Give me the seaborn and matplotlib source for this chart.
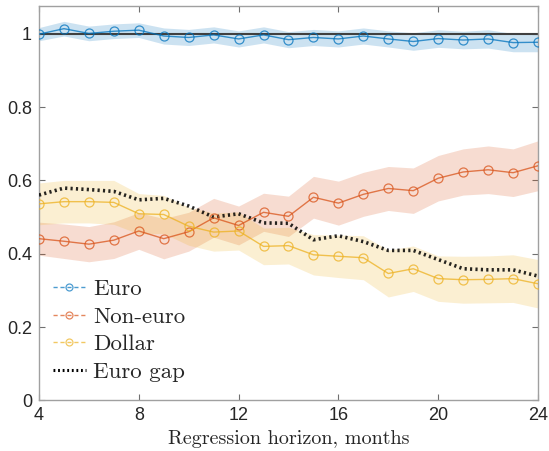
import numpy as np
import pandas as pd
import matplotlib
matplotlib.use("Agg")
import matplotlib.pyplot as plt
from matplotlib.lines import Line2D
import seaborn as sns

# Regression horizon (months)
horizon = list(range(4, 25))

# Point estimates
euro = [0.999, 1.014, 1.001, 1.007, 1.010, 0.994, 0.990, 0.997, 0.986, 0.997, 0.984,
        0.990, 0.986, 0.994, 0.986, 0.979, 0.987, 0.983, 0.986, 0.976, 0.977]
non_euro = [0.441, 0.434, 0.426, 0.437, 0.462, 0.441, 0.460, 0.498, 0.477, 0.513, 0.502,
            0.554, 0.538, 0.562, 0.578, 0.572, 0.606, 0.623, 0.629, 0.621, 0.640]
dollar = [0.536, 0.542, 0.542, 0.540, 0.509, 0.507, 0.475, 0.459, 0.462, 0.420, 0.422,
          0.397, 0.393, 0.389, 0.346, 0.359, 0.332, 0.329, 0.330, 0.332, 0.318]
euro_gap = [0.560, 0.579, 0.575, 0.570, 0.547, 0.551, 0.530, 0.500, 0.509, 0.484, 0.483,
            0.438, 0.449, 0.433, 0.409, 0.409, 0.384, 0.359, 0.356, 0.356, 0.339]

# Confidence band half-widths
euro_ci = [0.018, 0.020, 0.020, 0.020, 0.020, 0.022, 0.022, 0.022, 0.022, 0.022, 0.022,
           0.022, 0.022, 0.022, 0.022, 0.024, 0.024, 0.024, 0.025, 0.025, 0.026]
non_euro_ci = [0.045, 0.047, 0.048, 0.050, 0.050, 0.055, 0.053, 0.053, 0.053, 0.052, 0.055,
               0.057, 0.060, 0.060, 0.060, 0.062, 0.062, 0.063, 0.065, 0.065, 0.068]
dollar_ci = [0.057, 0.058, 0.058, 0.060, 0.055, 0.052, 0.052, 0.052, 0.052, 0.050, 0.050,
             0.055, 0.058, 0.060, 0.064, 0.062, 0.062, 0.064, 0.064, 0.065, 0.066]

labels = ["Euro", "Non-euro", "Dollar", "Euro gap"]
colors = ["#0072BD", "#D95319", "#EDB120"]

sns.set_theme(style="white")
plt.rcParams["font.family"] = ["Liberation Sans", "DejaVu Sans"]

fig = plt.figure(figsize=(5.49, 4.51), dpi=100)
ax = fig.add_axes([0.071, 0.1124, 0.909, 0.8736])

x = np.array(horizon)
series = [euro, non_euro, dollar]
cis = [euro_ci, non_euro_ci, dollar_ci]

# Shaded confidence bands
for vals, ci, c in zip(series, cis, colors):
    v = np.array(vals)
    h = np.array(ci)
    ax.fill_between(x, v - h, v + h, color=c, alpha=0.2, linewidth=0, zorder=1)

# Reference level at one
ax.plot([x[0], x[-1]], [1, 1], color="#404040", lw=1.5, zorder=2)

df = pd.DataFrame({"horizon": horizon, "Euro": euro, "Non-euro": non_euro,
                   "Dollar": dollar, "Euro gap": euro_gap})

for name, c in zip(labels[:3], colors):
    sns.lineplot(data=df, x="horizon", y=name, ax=ax, color=c, lw=1.0, alpha=0.75,
                 marker="o", markersize=6.5, markerfacecolor="none",
                 markeredgecolor=c, markeredgewidth=0.9, zorder=4)

sns.lineplot(data=df, x="horizon", y="Euro gap", ax=ax, color="black", lw=2.6,
             linestyle=(0, (0.6, 0.9)), alpha=0.85, zorder=3)

ax.set_xlim(4, 24)
ax.set_ylim(0, 1.075)
ax.set_xticks([4, 8, 12, 16, 20, 24])
ax.set_yticks([0, 0.2, 0.4, 0.6, 0.8, 1.0])
ax.set_yticklabels(["0", "0.2", "0.4", "0.6", "0.8", "1"])
ax.set_ylabel("")
ax.set_xlabel("Regression horizon, months", family="cmr10", fontsize=14.5, color="#262626",
              labelpad=4)

for s in ax.spines.values():
    s.set_color("#a0a0a0")
    s.set_linewidth(1.0)
ax.tick_params(direction="in", length=4, width=0.8, color="#707070", labelsize=13,
               labelcolor="#262626", top=True, right=True, bottom=True, left=True, pad=5)

# Legend with dashed marker handles
handles = [Line2D([], [], color=c, lw=1.0, alpha=0.7, linestyle=(0, (3, 2)), marker="o",
                  markersize=5, markerfacecolor="none", markeredgewidth=0.9)
           for c in colors]
handles.append(Line2D([], [], color="black", lw=2.2, linestyle=(0, (0.6, 0.9))))
leg = ax.legend(handles, labels, loc="lower left", bbox_to_anchor=(0.0, 0.012),
                frameon=False, prop={"family": "cmr10", "size": 16.5}, handlelength=1.45,
                handletextpad=0.3, labelspacing=0.33, borderaxespad=0.2)

fig.savefig("out.png", dpi=100)
